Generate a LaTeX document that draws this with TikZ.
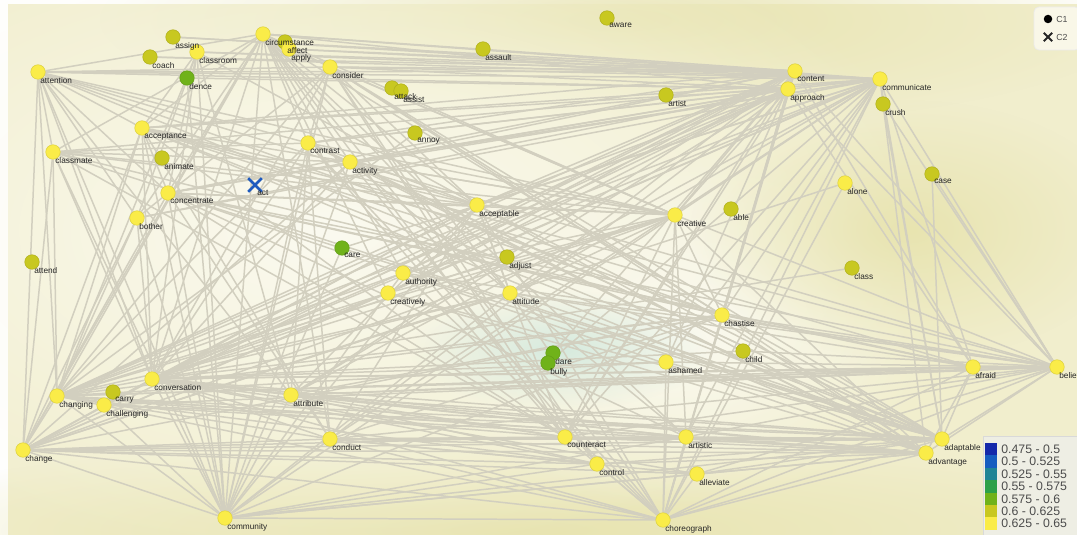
\documentclass[tikz,border=0pt]{standalone}
\usepackage{fontspec}
\setmainfont{Liberation Sans}
\usetikzlibrary{backgrounds, shapes.misc, fadings}

\definecolor{mapbg}{RGB}{241,238,205}
\definecolor{maplight}{RGB}{251,250,240}
\definecolor{mapdark}{RGB}{232,228,176}
\definecolor{maptint}{RGB}{214,234,222}
\definecolor{linkgray}{RGB}{210,207,191}
\definecolor{cBlueA}{RGB}{20,40,170}
\definecolor{cBlueB}{RGB}{22,92,192}
\definecolor{cTeal}{RGB}{32,132,150}
\definecolor{cGreenA}{RGB}{44,160,72}
\definecolor{cGrn}{RGB}{112,178,26}
\definecolor{cOlv}{RGB}{200,200,32}
\definecolor{cYel}{RGB}{250,236,72}
\definecolor{actblue}{RGB}{30,90,190}

\tikzfading[name=blob, inner color=transparent!0, outer color=transparent!100]

\tikzset{
  word/.style={circle, minimum size=2.9mm, inner sep=0pt, line width=0.3pt},
  yel/.style={word, fill=cYel, draw=cYel!88!black},
  olv/.style={word, fill=cOlv, draw=cOlv!88!black},
  grn/.style={word, fill=cGrn, draw=cGrn!88!black},
  lbl/.style={anchor=north west, inner sep=0pt, font=\fontsize{4.7}{5.5}\selectfont, text=black!85},
  link/.style={draw=linkgray, line width=0.85pt},
  key/.style={anchor=west, inner sep=0pt, font=\fontsize{7}{8}\selectfont, text=black!70}
}

\def\words{
	attention/38/72/yel/attention, coach/150/57/olv/coach, assign/173/37/olv/assign,
	classroom/197/52/yel/classroom, dence/187/78/grn/dence, circumstance/263/34/yel/circumstance,
	affect/285/42/olv/affect, apply/289/49/yel/apply, consider/330/67/yel/consider,
	attack/392/88/olv/attack, assist/401/91/olv/assist, assault/483/49/olv/assault,
	aware/607/18/olv/aware, artist/666/95/olv/artist, content/795/71/yel/content,
	approach/788/89/yel/approach, communicate/880/79/yel/communicate, crush/883/104/olv/crush,
	acceptance/142/128/yel/acceptance, classmate/53/152/yel/classmate, animate/162/158/olv/animate,
	contrast/308/143/yel/contrast, activity/350/162/yel/activity, annoy/415/133/olv/annoy,
	concentrate/168/193/yel/concentrate, bother/137/218/yel/bother, acceptable/477/205/yel/acceptable,
	creative/675/215/yel/creative, able/731/209/olv/able, alone/845/183/yel/alone,
	case/932/174/olv/case, attend/32/262/olv/attend, care/342/248/grn/care,
	adjust/507/257/olv/adjust, class/852/268/olv/class, authority/403/273/yel/authority,
	creatively/388/293/yel/creatively, attitude/510/293/yel/attitude, chastise/722/315/yel/chastise,
	child/743/351/olv/child, ashamed/666/362/yel/ashamed, afraid/973/367/yel/afraid,
	believe/1057/367/yel/believe, dare/553/353/grn/dare, bully/548/363/grn/bully,
	conversation/152/379/yel/conversation, changing/57/396/yel/changing, carry/113/392/olv/carry,
	challenging/104/405/yel/challenging, attribute/291/395/yel/attribute, change/23/450/yel/change,
	conduct/330/439/yel/conduct, counteract/565/437/yel/counteract, artistic/686/437/yel/artistic,
	control/597/464/yel/control, alleviate/697/474/yel/alleviate, adaptable/942/439/yel/adaptable,
	advantage/926/453/yel/advantage, community/225/518/yel/community, choreograph/663/520/yel/choreograph}

\begin{document}
\begin{tikzpicture}[x=0.2mm, y=-0.2mm]
	\useasboundingbox (0,0) rectangle (1077,535);

	% words, then their labels on top
	\foreach \n/\x/\y/\s/\t in \words
		\node[\s] (\n) at (\x,\y) {};
	\node[cross out, draw=actblue, line width=1.5pt, minimum size=2.2mm, inner sep=0pt] (act) at (255,185) {};

	\foreach \n/\x/\y/\s/\t in \words
		\node[lbl] (\n-l) at ([xshift=0.4mm, yshift=-1mm]\n.center) {\t};
	\node[lbl] (act-l) at ([xshift=0.4mm, yshift=-1mm]act.center) {act};

	\begin{scope}[on background layer]
		\fill[white] (0,0) rectangle (1077,535);
		\fill[mapbg] (8,4) rectangle (1077,535);
		\fill[mapdark, path fading=blob] (620,20) ellipse (520 and 110);
		\fill[mapdark, path fading=blob] (520,530) ellipse (700 and 90);
		\fill[maplight, path fading=blob] (330,230) ellipse (620 and 330);
		\fill[maplight, path fading=blob] (680,330) ellipse (260 and 180);
		\fill[mapdark, path fading=blob] (910,230) ellipse (220 and 130);
		\fill[maptint, path fading=blob] (560,350) ellipse (150 and 60);

		\foreach \a/\bs in {
			attention/{circumstance,consider,content,communicate,approach,classmate,acceptance,concentrate,change,changing,community,acceptable,creative,chastise,conversation,attribute,adaptable,contrast,bother},
			coach/{content,communicate},
			assign/{communicate,content},
			classroom/{content,communicate,concentrate,acceptance,bother,changing,conversation,attribute,community,acceptable},
			dence/{community,approach},
			circumstance/{consider,content,communicate,approach,acceptance,concentrate,contrast,classmate,community,changing,change,conversation,creatively,authority,attitude,acceptable,creative,chastise,counteract,choreograph,artistic,conduct,bother,activity},
			apply/{communicate,content,creative},
			consider/{content,approach,communicate,acceptable,creative,conversation,community,changing,concentrate,chastise,attitude,adaptable,advantage,counteract,control,contrast},
			acceptance/{content,approach,communicate,acceptable,creative,chastise,adaptable,advantage,believe,afraid,conduct,counteract,community,conversation,changing,change,concentrate},
			classmate/{communicate,contrast,activity,acceptable,conversation,community,change,adaptable,chastise,counteract,creative,changing},
			contrast/{content,approach,communicate,acceptable,creative,community,changing,conversation,attribute,conduct,choreograph,counteract,adaptable,advantage,activity},
			activity/{content,communicate,conversation,change,community,adaptable,advantage,believe,artistic,creative,control,approach},
			concentrate/{content,approach,communicate,acceptable,creative,chastise,adaptable,advantage,believe,afraid,counteract,artistic,conduct,community,change,bother},
			bother/{conversation,community,change,approach,communicate,changing},
			acceptable/{content,approach,communicate,conversation,changing,change,community,conduct,attribute,counteract,choreograph,adaptable,advantage,creative,attitude},
			creative/{content,approach,communicate,conversation,changing,change,community,creatively,authority,attitude,choreograph,counteract,artistic,advantage,believe,chastise},
			authority/{approach,content,conversation,changing,adaptable,believe,choreograph,creatively},
			creatively/{approach,content,communicate,changing,conversation,change,community,adaptable,advantage},
			attitude/{content,communicate,changing,change,conversation,community,choreograph,afraid,believe,adaptable},
			chastise/{content,approach,communicate,conversation,changing,change,attribute,conduct,believe,afraid,adaptable,advantage,choreograph,community},
			ashamed/{conversation,changing,content,communicate,believe,adaptable,choreograph},
			conversation/{content,approach,communicate,adaptable,advantage,believe,afraid,attribute,counteract,artistic,control,alleviate,choreograph,conduct,changing,change,community},
			changing/{adaptable,advantage,afraid,believe,counteract,artistic,conduct,community,control,choreograph,approach,communicate,content,change},
			challenging/{adaptable,advantage,believe,conversation,community},
			change/{conduct,counteract,control,alleviate,adaptable,advantage,choreograph,communicate,content,community},
			attribute/{adaptable,advantage,believe,afraid,counteract,artistic,control,community,communicate,content,approach},
			conduct/{adaptable,advantage,believe,counteract,artistic,alleviate,control,community,choreograph,communicate,approach},
			counteract/{adaptable,advantage,believe,choreograph,communicate,content,approach},
			artistic/{adaptable,advantage,believe,choreograph,community,communicate},
			control/{adaptable,advantage,choreograph,community},
			alleviate/{adaptable,advantage,choreograph,community,believe},
			community/{choreograph,advantage,adaptable},
			choreograph/{adaptable,advantage,believe,afraid,communicate,content,approach},
			adaptable/{believe,afraid,communicate,crush},
			advantage/{believe,afraid,communicate},
			afraid/{believe,communicate,content,approach},
			believe/{communicate,crush,case,content,approach},
			care/{community,communicate}, child/{conversation,believe}, adjust/{conversation},
			annoy/{changing}, alone/{choreograph,change}, case/{adaptable},
			class/{conversation}, dare/{content}, bully/{communicate}}
		{
			\foreach \b in \bs
				\draw[link] (\a) -- (\b);
		}
	\end{scope}

	% cluster key
	\draw[draw=black!8, fill=white!55!mapbg, rounded corners=1mm] (1034,7) rectangle (1080,50);
	\node[circle, fill=black, minimum size=1.7mm, inner sep=0pt] (c1dot) at (1048,19) {};
	\node[key, font=\fontsize{5}{6}\selectfont] (c1) at (1056,19) {C1};
	\node[cross out, draw=black!85, line width=1.1pt, minimum size=1.3mm, inner sep=0pt] (c2cross) at (1048,37) {};
	\node[key, font=\fontsize{5}{6}\selectfont] (c2) at (1056,37) {C2};

	% value key
	\draw[draw=black!15, fill={rgb,255:red,238;green,238;blue,228}] (983,436) rectangle (1080,540);
	\foreach \c [count=\i from 0] in {cBlueA,cBlueB,cTeal,cGreenA,cGrn,cOlv,cYel}
		\fill[\c] (985,{443+12.4*\i}) rectangle (997,{443+12.4*(\i+1)});
	\foreach \t [count=\i from 0] in {0.475 - 0.5, 0.5 - 0.525, 0.525 - 0.55, 0.55 - 0.575, 0.575 - 0.6, 0.6 - 0.625, 0.625 - 0.65}
		\node[key] (range\i) at (1001,{443+12.4*(\i+0.5)}) {\t};
\end{tikzpicture}
\end{document}
